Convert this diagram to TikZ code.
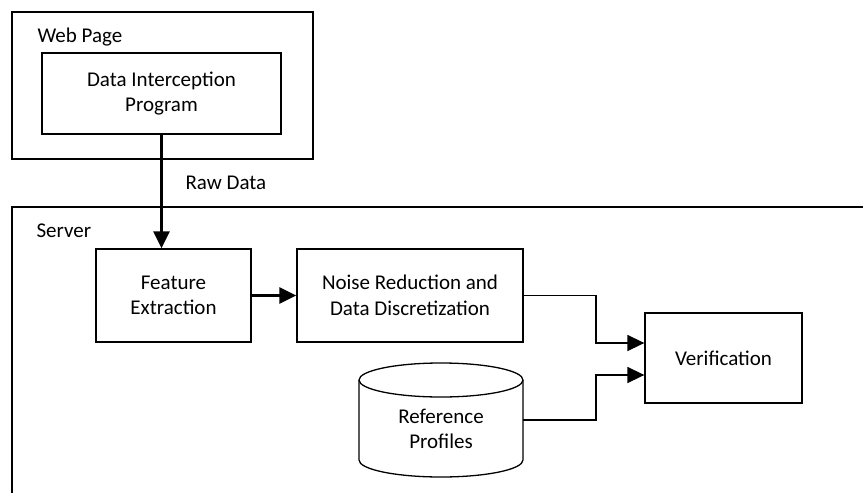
\documentclass[tikz,border=0pt]{standalone}
\usepackage{fontspec}
\setmainfont{Carlito}
\usetikzlibrary{arrows.meta}

\begin{document}
\begin{tikzpicture}[x=1pt, y=-1pt,
    every node/.style={font=\fontsize{21}{25.5}\selectfont},
    box/.style={draw, line width=1.3pt, align=center, inner sep=0pt},
    arr/.style={line width=2.5pt, -{Triangle[length=17pt,width=16pt]}},
    elbow/.style={line width=1.6pt, -{Triangle[length=17pt,width=16pt]}}]
    \useasboundingbox (0,0) rectangle (863,493);

    % web page side
    \node[box, minimum width=301pt, minimum height=147pt] (web) at (162.5,85.5) {};
    \node[anchor=base west] (weblbl) at (34,42) {Web Page};
    \node[box, minimum width=239pt, minimum height=81pt] (dip) at (161.5,93.5) {Data Interception\\Program};

    % server side (open to the right and bottom)
    \draw[line width=1.3pt] (12,493) |- (863,207);
    \node[anchor=base west] (srvlbl) at (33,237) {Server};
    \node[box, minimum width=155pt, minimum height=93pt] (feat) at (173.5,295.5) {Feature\\Extraction};
    \node[box, minimum width=226pt, minimum height=93pt] (noise) at (410,295.5) {Noise Reduction and\\Data Discretization};
    \node[box, minimum width=157pt, minimum height=90pt] (verif) at (723.5,358) {Verification};

    % database cylinder
    \draw[line width=1.3pt] (441,380) ellipse [x radius=82pt, y radius=17pt];
    \draw[line width=1.3pt] (359,380) -- (359,460)
        arc[start angle=180, end angle=360, x radius=82pt, y radius=17pt] -- (523,380);
    \node[minimum width=164pt, minimum height=114pt, inner sep=0pt] (refs) at (441,420) {};
    \node[align=center] (refstxt) at (441,429) {Reference\\Profiles};

    \coordinate (jog) at (596,300);

    \draw[arr] (dip.south) -- (dip.south |- feat.north);
    \node[anchor=base west] (rawlbl) at (182,189) {Raw Data};
    \draw[arr] (feat.east) -- (noise.west);
    \draw[elbow] (noise.east) -- (noise.east -| jog) |- ([yshift=15pt]verif.west);
    \draw[elbow] (refs.east) -- (refs.east -| jog) |- ([yshift=-17pt]verif.west);
\end{tikzpicture}
\end{document}
